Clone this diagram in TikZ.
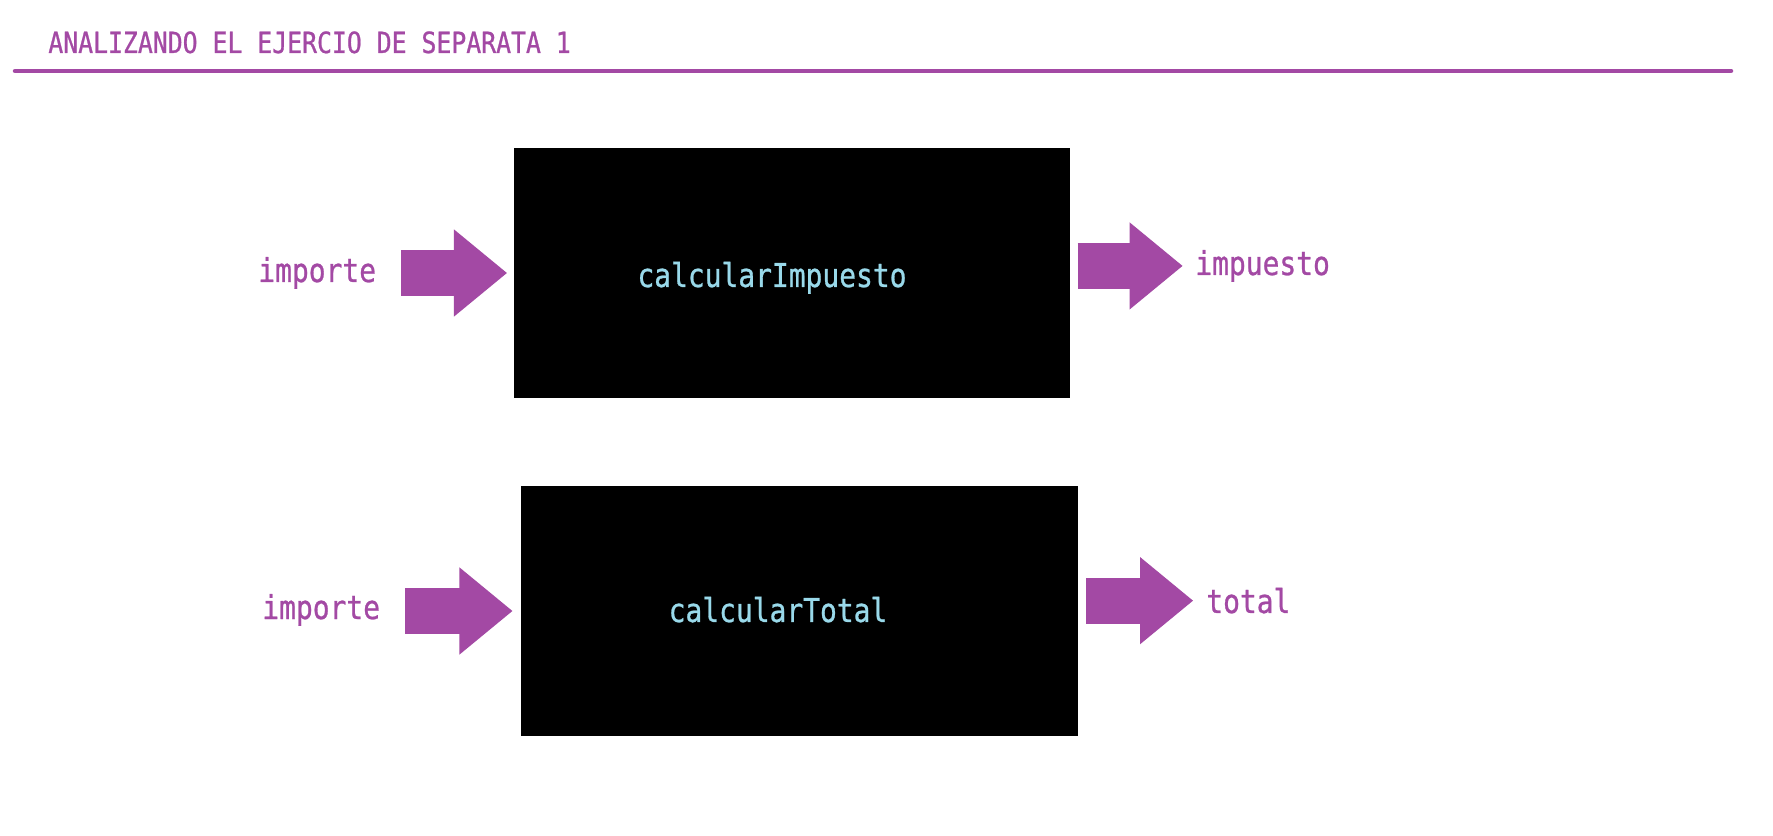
\documentclass[tikz,border=0pt]{standalone}
\usepackage{fontspec}
\usetikzlibrary{arrows.meta,positioning,calc}
\newfontfamily\codefont[FakeStretch=0.85,FakeBold=0.8]{DejaVu Sans Mono}
\definecolor{Plum}{HTML}{A349A4}
\definecolor{Sky}{HTML}{99D9EA}
\begin{document}
\begin{tikzpicture}[fnbox/.style={fill=black,draw=none,minimum width=11.13cm,minimum height=5cm,inner sep=0pt}, fnname/.style={anchor=base,inner sep=0pt,text=Sky,font=\codefont\fontsize{18.7}{22}\selectfont}, param/.style={anchor=base west,inner sep=0pt,text=Plum,font=\codefont\fontsize{18.7}{22}\selectfont}, heading/.style={anchor=base west,inner sep=0pt,text=Plum,font=\codefont\fontsize{16.6}{20}\selectfont}, bigarrow/.style={color=Plum,line width=0.92cm,line cap=butt,-{Triangle[length=1.06cm,width=1.74cm,line width=0.8pt]}}]
\fill[white] (0,0) rectangle (35.46,-16.72);
\useasboundingbox (0,0) rectangle (35.46,-16.72);
\node[heading] (title) at (0.96,-1.06) {ANALIZANDO EL EJERCIO DE SEPARATA 1};
\draw[Plum,line width=0.09cm,line cap=round] (0.30,-1.42)--(34.62,-1.42);
\node[fnbox] (impBox) at (15.84,-5.46) {};\node[fnname] (impName) at (15.44,-5.74) {calcularImpuesto};
\node[fnbox] (totBox) at (15.99,-12.22) {};\node[fnname] (totName) at (15.56,-12.44) {calcularTotal};
\node[param] (impIn) at (5.16,-5.64) {importe};\node[param] (impOut) at (23.9,-5.50) {impuesto};
\node[param] (totIn) at (5.24,-12.38) {importe};\node[param] (totOut) at (24.12,-12.26) {total};
\draw[bigarrow,shorten <=0.5cm,shorten >=0.13cm] (impIn.east |- impBox.west)--(impBox.west);
\draw[bigarrow,shorten <=0.14cm,shorten >=0.25cm] (impBox.east |- impOut.west)--(impOut.west);
\draw[bigarrow,shorten <=0.5cm,shorten >=0.17cm] (totIn.east |- totBox.west)--(totBox.west);
\draw[bigarrow,shorten <=0.16cm,shorten >=0.26cm] (totBox.east |- totOut.west)--(totOut.west);
\end{tikzpicture}
\end{document}
